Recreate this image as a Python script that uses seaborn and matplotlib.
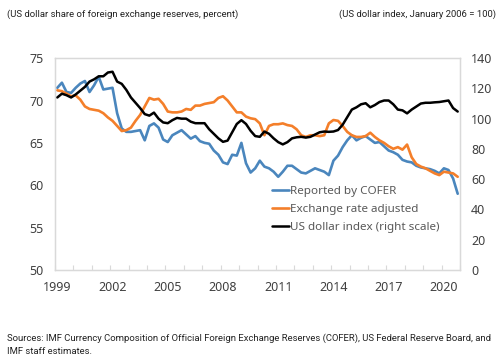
#!/usr/bin/env python3
"""
plot.py

US dollar share of foreign exchange reserves (COFER, reported and
exchange-rate adjusted) against the US dollar index, quarterly 1999-2020.
"""

import pandas as pd
import seaborn as sns
import matplotlib

matplotlib.use("Agg")
import matplotlib.pyplot as plt
from matplotlib import font_manager


# Quarterly observations, 1999Q1 .. 2020Q4
years = list(range(1999, 2021))
quarters = [f"{y}Q{q}" for y in years for q in range(1, 5)]

reported_cofer = [
    71.5, 72.1, 71.0, 70.9, 71.5, 72.0, 72.3, 71.0, 71.8, 72.8, 71.3, 71.4, 71.5,
    68.5, 66.7, 66.3, 66.3, 66.4, 66.5, 65.3, 67.0, 67.3, 66.8, 65.4, 65.1, 65.9,
    66.2, 66.5, 66.0,
    65.5, 65.8, 65.2, 65.0, 64.9, 64.1, 63.6, 62.7, 62.5, 63.6, 63.5, 65.0, 62.6,
    61.5, 62.0,
    62.9, 62.2, 62.0, 61.6, 61.0, 61.6, 62.3, 62.3, 61.9, 61.5, 61.4, 61.7, 62.0,
    61.8, 61.6,
    61.2, 62.9, 63.5, 64.5, 65.3, 65.9, 65.3, 65.6, 65.8, 65.4, 65.0, 65.1, 64.6,
    64.1, 63.9,
    63.6, 63.0, 62.8, 62.7, 62.3, 62.1, 62.0, 61.9, 61.7, 61.4, 62.0, 61.8, 60.8,
    59.0,
]

fx_adjusted = [
    71.2, 71.1, 70.8, 70.5, 70.6, 70.1, 69.3, 69.0, 68.9, 68.8, 68.5, 68.0, 67.6,
    67.0, 66.4, 66.5, 66.8, 67.6, 68.3, 69.3, 70.3, 70.1, 70.2, 69.6, 68.7, 68.6,
    68.6, 68.7, 69.0,
    68.9, 69.4, 69.4, 69.6, 69.7, 69.8, 70.3, 70.5, 70.0, 69.3, 68.6, 68.6, 68.1,
    67.9, 67.8,
    67.3, 65.9, 67.0, 67.2, 67.2, 67.3, 67.1, 67.0, 66.6, 65.9, 65.7, 65.9, 65.9,
    65.8, 65.9,
    67.3, 67.7, 67.6, 67.0, 66.3, 65.9, 65.7, 65.7, 65.8, 66.2, 65.7, 65.3, 65.0,
    64.6, 64.3,
    64.5, 64.2, 64.8, 63.3, 62.5, 62.2, 62.0, 61.7, 61.4, 61.2, 61.6, 61.5, 61.4,
    61.0,
]

usd_index = [
    114.0, 116.5, 115.5, 114.0, 116.0, 118.5, 121.0, 124.5, 126.0, 128.0, 128.0,
    130.5, 131.0, 124.5, 123.0, 119.0, 114.0, 110.5, 107.0, 103.0, 102.0, 104.0,
    100.0, 97.5, 97.0, 99.0, 100.5, 100.0, 100.0,
    98.0, 97.0, 97.0, 97.0, 93.0, 90.0, 87.0, 84.7, 85.5, 91.0, 96.5, 99.0, 96.5,
    92.0, 88.5,
    88.0, 91.5, 90.0, 87.0, 84.5, 83.0, 84.5, 87.0, 87.7, 88.0, 87.5, 88.0, 89.5,
    91.0, 91.5,
    91.3, 91.5, 92.5, 96.0, 101.0, 106.0, 107.5, 109.5, 110.2, 107.5, 109.0,
    111.0, 112.0, 112.0, 109.5,
    106.0, 105.5, 103.5, 106.0, 108.0, 110.0, 110.5, 110.5, 110.8, 111.0, 111.5,
    112.0, 107.0, 104.7,
]

label_years = [1999, 2002, 2005, 2008, 2011, 2014, 2017, 2020]

left_ticks = [50, 55, 60, 65, 70, 75]
right_ticks = [0, 20, 40, 60, 80, 100, 120, 140]

BLUE = "#4a86bd"
ORANGE = "#f47f2a"
BLACK = "#000000"
TEXT = "#404040"
SPINE = "#d9d9d9"


def pick_narrow_font():
    # The header/source notes use a condensed face; fall back to Roboto.
    names = {f.name for f in font_manager.fontManager.ttflist}
    if "Liberation Sans Narrow" in names:
        return "Liberation Sans Narrow", 7.8
    return "Roboto", 6.8


def main():
    sns.set_theme(style="white")
    plt.rcParams["font.family"] = ["Noto Sans", "DejaVu Sans"]

    df = pd.DataFrame({
        "idx": range(len(quarters)),
        "quarter": quarters,
        "cofer": reported_cofer,
        "adjusted": fx_adjusted,
        "usd": usd_index,
    })

    fig = plt.figure(figsize=(5.0, 3.61), dpi=100)
    ax = fig.add_axes([0.11, 0.252, 0.81, 0.587])
    ax2 = ax.twinx()

    sns.lineplot(data=df, x="idx", y="cofer", ax=ax, color=BLUE, lw=1.9,
                 label="Reported by COFER", legend=False)
    sns.lineplot(data=df, x="idx", y="adjusted", ax=ax, color=ORANGE, lw=1.9,
                 label="Exchange rate adjusted", legend=False)
    sns.lineplot(data=df, x="idx", y="usd", ax=ax2, color=BLACK, lw=1.8,
                 label="US dollar index (right scale)", legend=False)

    n = len(quarters)
    ax.set_xlim(-0.5, n - 0.5)
    ax.set_ylim(50, 75)
    ax2.set_ylim(0, 140)

    # Year labels sit on the first quarter; small ticks mark year boundaries
    ax.set_xticks([quarters.index(f"{y}Q1") for y in label_years])
    ax.set_xticklabels([str(y) for y in label_years])
    ax.set_xticks([i - 0.5 for i in range(0, n + 1, 4)], minor=True)
    ax.tick_params(axis="x", which="major", length=0, pad=8,
                   labelsize=9, labelcolor=TEXT)
    ax.tick_params(axis="x", which="minor", length=3.5, width=0.8,
                   direction="in", color=SPINE, bottom=True)

    ax.set_yticks(left_ticks)
    ax.tick_params(axis="y", length=0, pad=8, labelsize=9, labelcolor=TEXT)
    ax2.set_yticks(right_ticks)
    ax2.tick_params(axis="y", length=0, pad=8, labelsize=9, labelcolor=TEXT)

    for a in (ax, ax2):
        a.set_xlabel("")
        a.set_ylabel("")
        for sp in a.spines.values():
            sp.set_visible(True)
            sp.set_color(SPINE)
            sp.set_linewidth(0.9)

    handles = ax.get_lines()[:2] + ax2.get_lines()[:1]
    leg = ax2.legend(handles, [h.get_label() for h in handles],
                     loc="upper left", bbox_to_anchor=(0.535, 0.395),
                     frameon=False, fontsize=8.4, handlelength=1.45,
                     handletextpad=0.1, labelspacing=0.55,
                     borderpad=0, borderaxespad=0)
    for t in leg.get_texts():
        t.set_color("#595959")

    note_font, note_size = pick_narrow_font()
    fig.text(0.014, 0.961, "(US dollar share of foreign exchange reserves, percent)",
             ha="left", va="center", fontsize=note_size, family=note_font,
             color="#222222")
    fig.text(0.992, 0.961, "(US dollar index, January 2006 = 100)",
             ha="right", va="center", fontsize=note_size, family=note_font,
             color="#222222")
    fig.text(0.014, 0.064,
             "Sources: IMF Currency Composition of Official Foreign Exchange "
             "Reserves (COFER), US Federal Reserve Board, and",
             ha="left", va="center", fontsize=note_size, family=note_font,
             color="#222222")
    fig.text(0.014, 0.025, "IMF staff estimates.",
             ha="left", va="center", fontsize=note_size, family=note_font,
             color="#222222")

    fig.savefig("out.png", dpi=100)
    plt.close(fig)


if __name__ == "__main__":
    main()
